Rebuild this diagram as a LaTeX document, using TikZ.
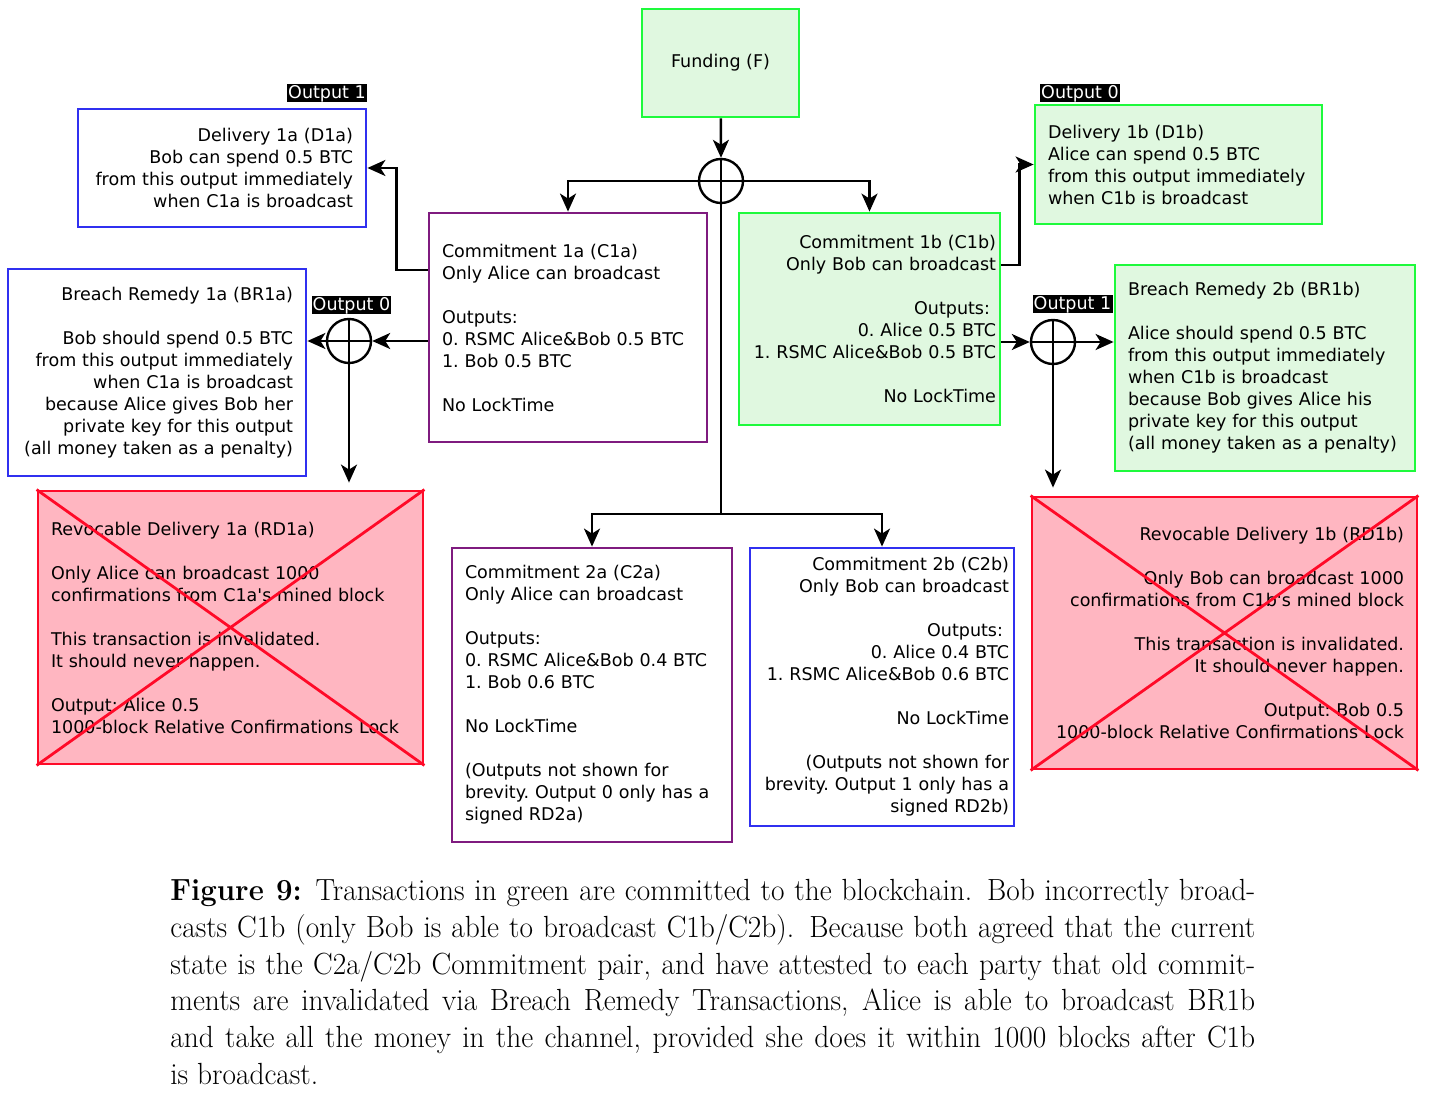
\documentclass[tikz,border=0pt]{standalone}
\usepackage{fontspec}
\newfontfamily\dejavu{DejaVu Sans}
\usetikzlibrary{arrows.meta}
\definecolor{chgreen}{HTML}{1EFA3C}
\definecolor{chfill}{HTML}{E0F8E0}
\definecolor{chpurple}{HTML}{7F1B7F}
\definecolor{chblue}{HTML}{3030F0}
\definecolor{chred}{HTML}{FF0A28}
\definecolor{chpink}{HTML}{FFB6C1}
\newcommand\capfont{\fontsize{15.3}{18.35}\selectfont\hyphenpenalty=10000\relax\tolerance=9000\relax}

\begin{document}
\begin{tikzpicture}[x=0.5pt,y=-0.5pt,
  >={Stealth[length=9pt,width=8pt,inset=2.5pt]},
  every node/.style={font=\dejavu\fontsize{8.76}{11}\selectfont\frenchspacing},
  tx/.style={draw,line width=1.4pt,inner xsep=6.5pt,inner ysep=0pt},
  greentx/.style={tx,draw=chgreen,fill=chfill},
  purpletx/.style={tx,draw=chpurple,fill=white},
  bluetx/.style={tx,draw=chblue,fill=white},
  redtx/.style={tx,draw=chred,fill=chpink},
  link/.style={line width=1.2pt},
  junction/.style={circle,draw,line width=1.2pt,minimum size=22pt,inner sep=0pt,
    path picture={\draw[line width=1.2pt] (path picture bounding box.north) -- (path picture bounding box.south)
      (path picture bounding box.west) -- (path picture bounding box.east);}},
  outlbl/.style={fill=black,text=white,inner xsep=0.6pt,inner ysep=0.25pt,text height=6.9pt,text depth=1.6pt}]
\useasboundingbox (0,0) rectangle (1429,1095);

% transactions
\node[greentx,minimum width=78.5pt,minimum height=54pt] (F) at (720.5,63) {Funding (F)};
\node[purpletx,minimum width=139pt,minimum height=114.5pt,text width=126pt,align=left] (C1a) at (568,327.5)
  {Commitment 1a (C1a)\\Only Alice can broadcast\\[11pt]Outputs:\\0. RSMC Alice\&Bob 0.5 BTC\\1. Bob 0.5 BTC\\[11pt]No LockTime};
\node[greentx,inner xsep=2pt,minimum width=130.5pt,minimum height=106pt,text width=126.5pt,align=right] (C1b) at (869.5,319)
  {Commitment 1b (C1b)\\Only Bob can broadcast\\[11pt]Outputs:\kern3pt\\0. Alice 0.5 BTC\\1. RSMC Alice\&Bob 0.5 BTC\\[11pt]No LockTime};
\node[bluetx,minimum width=144pt,minimum height=59pt,text width=131pt,align=right] (D1a) at (222,168)
  {Delivery 1a (D1a)\\Bob can spend 0.5 BTC\\from this output immediately\\when C1a is broadcast};
\node[bluetx,minimum width=149pt,minimum height=103.5pt,text width=136pt,align=right] (BR1a) at (157,372.5)
  {Breach Remedy 1a (BR1a)\\[11pt]Bob should spend 0.5 BTC\\from this output immediately\\when C1a is broadcast\\because Alice gives Bob her\\private key for this output\\(all money taken as a penalty)};
\node[redtx,minimum width=192.5pt,minimum height=136.5pt,text width=179.5pt,align=left] (RD1a) at (230.5,627.5)
  {Revocable Delivery 1a (RD1a)\\[11pt]Only Alice can broadcast 1000\\confirmations from C1a\textquotesingle s mined block\\[11pt]This transaction is invalidated.\\It should never happen.\\[11pt]Output: Alice 0.5\\1000-block Relative Confirmations Lock};
\node[purpletx,minimum width=140pt,minimum height=147pt,text width=127pt,align=left] (C2a) at (592,695)
  {Commitment 2a (C2a)\\Only Alice can broadcast\\[11pt]Outputs:\\0. RSMC Alice\&Bob 0.4 BTC\\1. Bob 0.6 BTC\\[11pt]No LockTime\\[11pt](Outputs not shown for\\brevity. Output 0 only has a\\signed RD2a)};
\node[bluetx,inner xsep=2.5pt,minimum width=132pt,minimum height=139pt,text width=127pt,align=right] (C2b) at (882,687)
  {Commitment 2b (C2b)\\Only Bob can broadcast\\[11pt]Outputs:\kern3pt\\0. Alice 0.4 BTC\\1. RSMC Alice\&Bob 0.6 BTC\\[11pt]No LockTime\\[11pt](Outputs not shown for\\brevity. Output 1 only has a\\signed RD2b)};
\node[greentx,minimum width=143.5pt,minimum height=59.5pt,text width=130.5pt,align=left] (D1b) at (1178.5,164.5)
  {Delivery 1b (D1b)\\Alice can spend 0.5 BTC\\from this output immediately\\when C1b is broadcast};
\node[greentx,minimum width=150pt,minimum height=103pt,text width=137pt,align=left] (BR1b) at (1265,368)
  {Breach Remedy 2b (BR1b)\\[11pt]Alice should spend 0.5 BTC\\from this output immediately\\when C1b is broadcast\\because Bob gives Alice his\\private key for this output\\(all money taken as a penalty)};
\node[redtx,minimum width=192.5pt,minimum height=136pt,text width=179.5pt,align=right] (RD1b) at (1224.5,633)
  {Revocable Delivery 1b (RD1b)\\[11pt]Only Bob can broadcast 1000\\confirmations from C1b\textquotesingle s mined block\\[11pt]This transaction is invalidated.\\It should never happen.\\[11pt]Output: Bob 0.5\\1000-block Relative Confirmations Lock};

% invalidated ones
\draw[chred,line width=1.4pt] (RD1a.north west) -- (RD1a.south east) (RD1a.south west) -- (RD1a.north east);
\draw[chred,line width=1.4pt] (RD1b.north west) -- (RD1b.south east) (RD1b.south west) -- (RD1b.north east);

% junctions and output labels
\node[junction] (fj) at (721,181) {};
\node[junction] (oj1a) at (349,341) {};
\node[junction] (oj1b) at (1053,342) {};
\node[outlbl,anchor=south east] (l1a) at ([yshift=2.5pt]D1a.north east) {Output 1};
\node[outlbl,anchor=south west] (l1b) at ([xshift=3pt,yshift=0.5pt]D1b.north west) {Output 0};
\node[outlbl] (l0a) at (351.5,305.5) {Output 0};
\node[outlbl] (l0b) at (1072.5,304.5) {Output 1};
\coordinate (split) at (721,514);

% connectors
\draw[link,->] (F) -- (fj.north);
\draw[link,->] (fj.center) -| (C1a.north);
\draw[link,->] (fj.center) -| (C1b.north);
\draw[link] (fj.north) -- (split);
\draw[link,->] (split) -| (C2a.north);
\draw[link,->] (split) -| (C2b.north);
\draw[link,->] ([yshift=28.75pt]C1a.west) -- ++(-31,0) |- (D1a.east);
\draw[link,->] (C1a.west |- oj1a.east) -- (oj1a.east);
\draw[link,->] (oj1a.west) -- (oj1a.west -| BR1a.east);
\draw[link,->,shorten >=3.5pt] (oj1a.south) -- (oj1a.south |- RD1a.north);
\draw[link,->] ([yshift=27pt]C1b.east) -- ++(18,0) |- (D1b.west);
\draw[link,->] (C1b.east |- oj1b.west) -- (oj1b.west);
\draw[link,->] (oj1b.east) -- (oj1b.east -| BR1b.west);
\draw[link,->,shorten >=4pt] (oj1b.south) -- (oj1b.south |- RD1b.north);

% caption
\node[anchor=north west,inner sep=0pt,xscale=0.96,transform shape,text width=565pt,align=justify,font=\capfont] (cap) at (170,879)
  {\textbf{Figure 9:} Transactions in green are committed to the blockchain. Bob incorrectly broad-\linebreak
   casts C1b (only Bob is able to broadcast C1b/C2b). Because both agreed that the current\linebreak
   state is the C2a/C2b Commitment pair, and have attested to each party that old commit-\linebreak
   ments are invalidated via Breach Remedy Transactions, Alice is able to broadcast BR1b\linebreak
   and take all the money in the channel, provided she does it within 1000 blocks after C1b\linebreak
   is broadcast.};
\end{tikzpicture}
\end{document}
